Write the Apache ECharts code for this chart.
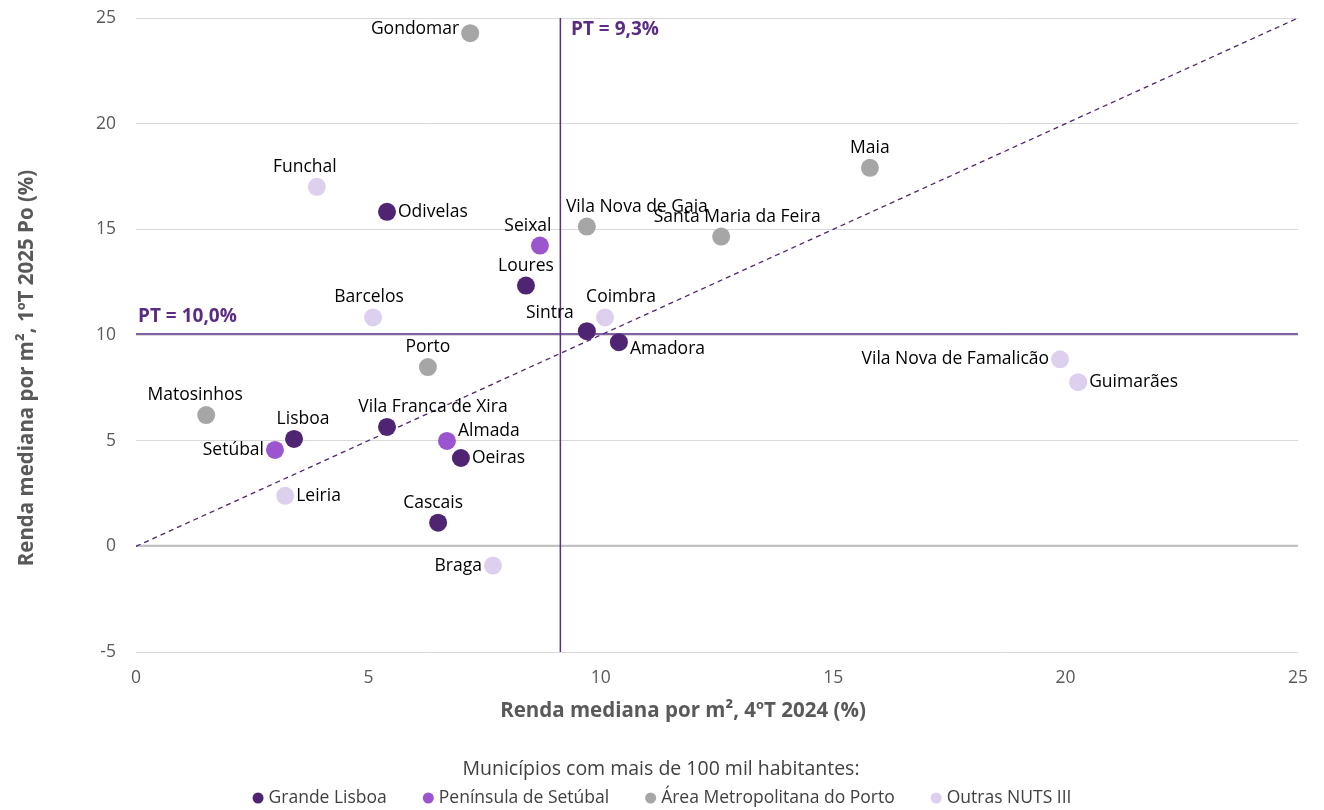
<!DOCTYPE html>
<html><head><meta charset="utf-8">
<script src="https://cdn.jsdelivr.net/npm/echarts@6/dist/echarts.min.js"></script>
<style>html,body{margin:0;padding:0;background:#fff}#c{width:1324px;height:810px}</style>
</head><body><div id="c"></div>
<script>
const groups = ['Grande Lisboa', 'Península de Setúbal', 'Área Metropolitana do Porto', 'Outras NUTS III'];
const groupColors = ['#4F2472', '#9A55CF', '#A6A6A6', '#DDD0EF'];
// [name, x (4ºT 2024), y (1ºT 2025 Po), label position, offset]
const grandeLisboa = [
  ['Odivelas', 5.40, 15.83, 'right', [0, 0]],
  ['Loures', 8.39, 12.34, 'top', [0, 0]],
  ['Sintra', 9.70, 10.18, 'top', [-37, 2]],
  ['Amadora', 10.39, 9.66, 'right', [0, 7]],
  ['Lisboa', 3.40, 5.08, 'top', [9, 0]],
  ['Vila Franca de Xira', 5.40, 5.65, 'top', [46, 0]],
  ['Oeiras', 6.99, 4.18, 'right', [0, 0]],
  ['Cascais', 6.50, 1.12, 'top', [-5, 0]]
];
const peninsulaSetubal = [
  ['Seixal', 8.69, 14.23, 'top', [-12, 0]],
  ['Almada', 6.69, 4.99, 'right', [0, -10]],
  ['Setúbal', 2.99, 4.56, 'left', [0, 0]]
];
const amPorto = [
  ['Gondomar', 7.19, 24.28, 'left', [0, -4]],
  ['Maia', 15.79, 17.91, 'top', [0, 0]],
  ['Vila Nova de Gaia', 9.70, 15.13, 'top', [50, 0]],
  ['Santa Maria da Feira', 12.59, 14.66, 'top', [16, 0]],
  ['Porto', 6.28, 8.48, 'top', [0, 0]],
  ['Matosinhos', 1.51, 6.21, 'top', [-11, 0]]
];
const outrasNuts = [
  ['Funchal', 3.89, 17.01, 'top', [-12, 0]],
  ['Barcelos', 5.10, 10.83, 'top', [-4, 0]],
  ['Coimbra', 10.09, 10.83, 'top', [16, 0]],
  ['Vila Nova de Famalicão', 19.88, 8.85, 'left', [0, 0]],
  ['Guimarães', 20.27, 7.77, 'right', [0, 0]],
  ['Leiria', 3.21, 2.39, 'right', [0, 0]],
  ['Braga', 7.68, -0.91, 'left', [0, 0]]
];
const ptX = 9.13, ptXLabel = 'PT = 9,3%';
const ptY = 10.05, ptYLabel = 'PT = 10,0%';
const xTitle = 'Renda mediana por m², 4ºT 2024 (%)';
const yTitle = 'Renda mediana por m², 1ºT 2025 Po (%)';
const legendTitle = 'Municípios com mais de 100 mil habitantes:';

const FONT = '"Open Sans", Lato, sans-serif';
const ptColor = '#5B2C83';
const allData = [grandeLisboa, peninsulaSetubal, amPorto, outrasNuts];

const series = allData.map((arr, i) => ({
  name: groups[i],
  type: 'scatter',
  symbolSize: 18,
  itemStyle: { color: groupColors[i], opacity: 1 },
  data: arr.map(d => ({
    value: [d[1], d[2]], name: d[0],
    label: { show: true, position: d[3], offset: d[4], formatter: d[0],
      color: '#000', fontSize: 17.5, fontFamily: FONT, distance: 2 }
  })),
  z: 5
}));

series.push({
  type: 'line', name: 'diag', data: [[0, 0], [25, 25]], symbol: 'none', silent: true,
  lineStyle: { color: '#4F2472', width: 1.3, type: [5, 4] }, z: 2
});
series.push({
  type: 'line', name: 'ptY', data: [[0, ptY], [25, ptY]], symbol: 'none', silent: true,
  lineStyle: { color: ptColor, width: 1.5 }, z: 3
});
series.push({
  type: 'line', name: 'ptX', data: [[ptX, -5], [ptX, 25]], symbol: 'none', silent: true,
  lineStyle: { color: ptColor, width: 1.5 }, z: 3
});

const chart = echarts.init(document.getElementById('c'));
chart.setOption({
  animation: false,
  textStyle: { fontFamily: FONT },
  grid: { left: 136, right: 26, top: 18, bottom: 158 },
  xAxis: {
    type: 'value', min: 0, max: 25, interval: 5,
    axisLine: { show: false }, axisTick: { show: false },
    axisLabel: { fontSize: 17.5, color: '#595959', margin: 17 },
    splitLine: { show: false }
  },
  yAxis: {
    type: 'value', min: -5, max: 25, interval: 5,
    axisLine: { show: false }, axisTick: { show: false },
    axisLabel: { fontSize: 17.5, color: '#595959', margin: 20 },
    splitLine: { show: true, lineStyle: { color: '#D9D9D9', width: 1 } }
  },
  legend: {
    data: groups, bottom: -2, left: 'center', icon: 'circle', itemWidth: 11, itemHeight: 11,
    itemGap: 36, textStyle: { fontSize: 17.5, color: '#404040', fontFamily: FONT }
  },
  graphic: [
    { type: 'text', x: 683, y: 711, style: { text: xTitle, fontSize: 20.5, fontWeight: 'bold', fill: '#595959', fontFamily: FONT, align: 'center', verticalAlign: 'middle' } },
    { type: 'text', x: 27, y: 368, rotation: Math.PI / 2, style: { text: yTitle, fontSize: 20.5, fontWeight: 'bold', fill: '#595959', fontFamily: FONT, align: 'center', verticalAlign: 'middle' } },
    { type: 'text', x: 661, y: 769, style: { text: legendTitle, fontSize: 19.5, fill: '#404040', fontFamily: FONT, align: 'center', verticalAlign: 'middle' } },
    { type: 'line', shape: { x1: 136, y1: 545.7, x2: 1298, y2: 545.7 }, style: { stroke: '#BFBFBF', lineWidth: 2 }, z: 1 },
    { type: 'text', left: 571, top: 20, style: { text: ptXLabel, fontSize: 19, fontWeight: 'bold', fill: ptColor, fontFamily: FONT } },
    { type: 'text', left: 138, top: 307, style: { text: ptYLabel, fontSize: 19, fontWeight: 'bold', fill: ptColor, fontFamily: FONT } }
  ],
  series: series
});
</script></body></html>
